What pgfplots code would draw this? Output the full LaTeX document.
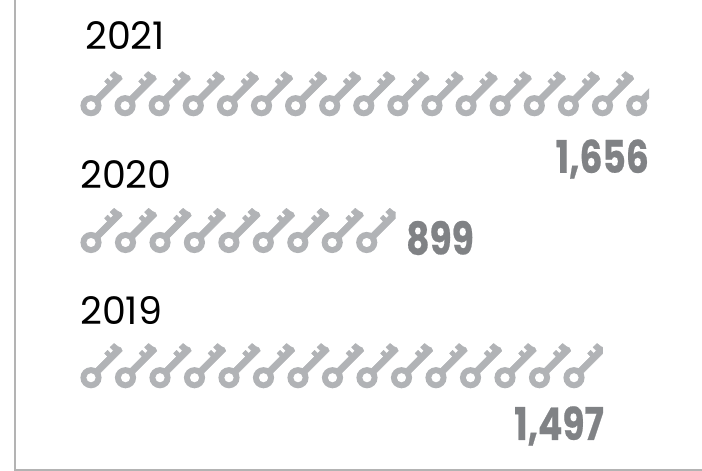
\documentclass[border=0pt]{standalone}
\usepackage{pgfplots}
\pgfplotsset{compat=1.18}
\usepackage{fontspec}
\setmainfont{Poppins}
\newfontfamily\condfont[FakeStretch=0.8,FakeBold=0.5]{Poppins Bold}
\definecolor{keygray}{HTML}{B1B3B6}
\definecolor{numgray}{HTML}{808285}
\definecolor{linegray}{HTML}{B3B3B3}
\newcommand\kp[2]{\pgfpoint{0.7071*(#1-(#2))*1bp}{0.7071*(#1+(#2))*1bp}}
\newcommand\keyshape{%
  \pgfsetlinewidth{0.6bp}\pgfsetroundjoin
  \pgfsetstrokecolor{keygray}\pgfsetfillcolor{keygray}%
  \begin{pgfscope}\pgfseteorule
    \pgfpathcircle{\pgfpointorigin}{10.6bp}%
    \pgfpathcircle{\pgfpointorigin}{4.7bp}%
    \pgfusepathqfill
  \end{pgfscope}%
  \pgfpathmoveto{\kp{8}{-3.2}}%
  \pgfpathlineto{\kp{41}{-3.2}}\pgfpathlineto{\kp{42.2}{0}}\pgfpathlineto{\kp{41}{3}}%
  \pgfpathlineto{\kp{40.5}{7.8}}\pgfpathlineto{\kp{35}{8}}\pgfpathlineto{\kp{35}{3.2}}%
  \pgfpathlineto{\kp{31}{3.2}}\pgfpathlineto{\kp{31}{7.6}}\pgfpathlineto{\kp{26.8}{7.6}}%
  \pgfpathlineto{\kp{26.8}{3.2}}\pgfpathlineto{\kp{8}{3.2}}\pgfpathclose
  \pgfusepathqfillstroke}
\pgfdeclareplotmark{key}{\keyshape}
\newcommand\declpartial[2]{\pgfdeclareplotmark{#1}{%
  \begin{pgfscope}%
  \pgfpathrectangle{\pgfpoint{-11bp}{-12bp}}{\pgfpoint{#2*42bp}{50bp}}\pgfusepath{clip}%
  \keyshape
  \end{pgfscope}}}
\declpartial{keyA}{0.56}
\declpartial{keyB}{0.95}
\declpartial{keyC}{0.95}
\begin{document}
\begin{tikzpicture}
\useasboundingbox (0,0) rectangle (702bp,471bp);
\begin{axis}[at={(0,0)},anchor=south west,
  scale only axis, width=702bp, height=471bp,
  xmin=0, xmax=702, ymin=0, ymax=471, y dir=reverse,
  axis lines=none, clip=true]
\addplot[linegray, line width=2bp, no marks] coordinates {(15,0) (15,469.5) (702,469.5)};
% 2021: 1,656
\addplot[only marks, mark=key] coordinates {(91,105.7)(125.1,105.7)(159.2,105.7)(193.3,105.7)(227.4,105.7)(261.5,105.7)(295.6,105.7)(329.7,105.7)(363.8,105.7)(397.9,105.7)(432,105.7)(466.1,105.7)(500.2,105.7)(534.3,105.7)(568.4,105.7)(602.5,105.7)};
\addplot[only marks, mark=keyA] coordinates {(636.7,105.7)};
% 2020: 899
\addplot[only marks, mark=key] coordinates {(91,242.5)(125.5,242.5)(160,242.5)(194.4,242.5)(228.9,242.5)(263.3,242.5)(297.8,242.5)(332.2,242.5)};
\addplot[only marks, mark=keyB] coordinates {(366.7,242.5)};
% 2019: 1,497
\addplot[only marks, mark=key] coordinates {(91,377.7)(125.5,377.7)(160,377.7)(194.5,377.7)(229,377.7)(263.5,377.7)(298,377.7)(332.5,377.7)(367,377.7)(401.5,377.7)(436,377.7)(470.5,377.7)(505,377.7)(539.5,377.7)};
\addplot[only marks, mark=keyC] coordinates {(574,377.7)};
\node[anchor=west,inner sep=0pt,font=\fontsize{38bp}{38bp}\selectfont] at (axis cs:85,36) {2021};
\node[anchor=west,inner sep=0pt,font=\fontsize{38bp}{38bp}\selectfont] at (axis cs:80,175) {2020};
\node[anchor=west,inner sep=0pt,font=\fontsize{38bp}{38bp}\selectfont] at (axis cs:80,311) {2019};
\node[anchor=east,inner sep=0pt,text=numgray,font=\fontsize{45bp}{45bp}\condfont] at (axis cs:649,159) {1,656};
\node[anchor=east,inner sep=0pt,text=numgray,font=\fontsize{45bp}{45bp}\condfont] at (axis cs:474,238) {899};
\node[anchor=east,inner sep=0pt,text=numgray,font=\fontsize{45bp}{45bp}\condfont] at (axis cs:604,426) {1,497};
\end{axis}
\end{tikzpicture}
\end{document}
